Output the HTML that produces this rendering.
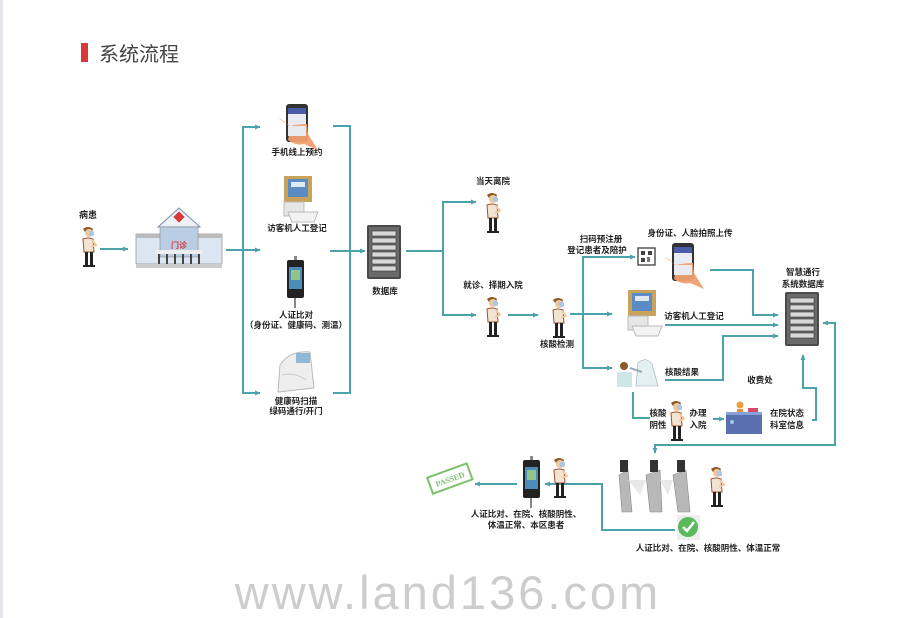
<!DOCTYPE html>
<html><head><meta charset="utf-8"><style>
html,body{margin:0;padding:0;background:#fff;}
svg{display:block;}
text{font-family:"Liberation Sans","Noto Sans CJK SC",sans-serif;font-weight:bold;}
.t{fill:#222;}
</style></head><body>
<svg width="900" height="618" viewBox="0 0 900 618" xmlns="http://www.w3.org/2000/svg">
<defs>
<marker id="a" markerWidth="6" markerHeight="6" refX="5" refY="3" orient="auto" markerUnits="userSpaceOnUse"><path d="M0,0.5 L5.5,3 L0,5.5z" fill="#4aa3a8"/></marker>
<g id="p">
<path d="M3,3 Q8,-1 13,3 L12,6 L5,6z" fill="#8a5a2b"/>
<circle cx="9" cy="7" r="4" fill="#f0c8a0"/>
<rect x="9" y="5" width="5" height="5" rx="1.5" fill="#a8c8e8"/>
<path d="M3,13 Q8,11 13,13 L14,26 L4,26z" fill="#f3e3d3" stroke="#a0522d" stroke-width="1"/>
<path d="M12,14 L16,19 L11,21" fill="none" stroke="#f0c8a0" stroke-width="2"/>
<rect x="5" y="26" width="3" height="14" fill="#222"/><rect x="10" y="26" width="3" height="14" fill="#222"/>
<rect x="3" y="39" width="6" height="2" fill="#222"/><rect x="9" y="39" width="6" height="2" fill="#222"/>
</g>
<g id="srv">
<rect x="0" y="0" width="34" height="54" rx="2" fill="#4a4a4a"/>
<rect x="2" y="2" width="30" height="50" fill="#6a6a6a"/>
<g fill="#d8d8d8" stroke="#333" stroke-width="0.6">
<rect x="5" y="6" width="24" height="5"/><rect x="5" y="13" width="24" height="5"/><rect x="5" y="20" width="24" height="5"/><rect x="5" y="27" width="24" height="5"/><rect x="5" y="34" width="24" height="5"/><rect x="5" y="41" width="24" height="5"/></g>
</g>
<g id="kiosk">
<rect x="6" y="0" width="28" height="26" fill="#c9a25c"/>
<rect x="10" y="3" width="20" height="18" fill="#5b8bc5"/>
<rect x="13" y="6" width="14" height="5" fill="#dfe9f4"/>
<rect x="6" y="26" width="20" height="14" fill="#e6e6e6" stroke="#bbb"/>
<path d="M10,36 L40,36 L36,46 L14,46z" fill="#f2f2f2" stroke="#bbb"/>
</g>
<g id="term">
<rect x="0" y="0" width="17" height="38" rx="2" fill="#222"/>
<rect x="2" y="7" width="13" height="22" fill="#4c8cb8"/>
<rect x="4" y="10" width="9" height="10" fill="#8fc48a"/>
<rect x="7" y="38" width="2" height="10" fill="#888"/>
<rect x="7" y="-4" width="3" height="4" fill="#888"/>
</g>
<g id="phone">
<rect x="8" y="0" width="22" height="38" rx="3" fill="#333"/>
<rect x="10" y="4" width="18" height="28" fill="#e8ecf2"/>
<rect x="10" y="4" width="18" height="6" fill="#4a5ca8"/>
<path d="M0,14 Q10,18 12,26 L10,36 Q18,42 26,40 L40,46 L30,30 L29,20 Q20,20 12,22z" fill="#f0a070" opacity="0.95"/>
<rect x="10" y="22" width="18" height="10" fill="#e8ecf2"/>
</g>
</defs>

<rect x="0" y="0" width="3" height="618" fill="#e4e6ea"/>
<!-- title -->
<rect x="81" y="43" width="7" height="19" fill="#d83a3a"/>
<text x="99" y="61" font-size="20" style="font-weight:normal;fill:#444">系统流程</text>

<g stroke="#4aa3a8" stroke-width="2" fill="none">
<line x1="100" y1="249" x2="128" y2="249" marker-end="url(#a)"/>
<line x1="226" y1="250" x2="260" y2="250" marker-end="url(#a)"/>
<path d="M260,127 L243,127 L243,393 L260,393" />
<line x1="254" y1="127" x2="260" y2="127" marker-end="url(#a)"/>
<line x1="254" y1="393" x2="260" y2="393" marker-end="url(#a)"/>
<path d="M333,126 L350,126 L350,393 L333,393"/>
<line x1="330" y1="251" x2="365" y2="251" marker-end="url(#a)"/>
<line x1="406" y1="251" x2="443" y2="251"/>
<path d="M476,202 L443,202 L443,315 L476,315"/>
<line x1="470" y1="202" x2="476" y2="202" marker-end="url(#a)"/>
<line x1="470" y1="315" x2="476" y2="315" marker-end="url(#a)"/>
<line x1="508" y1="315" x2="538" y2="315" marker-end="url(#a)"/>
<line x1="570" y1="314" x2="583" y2="314"/>
<path d="M635,257 L583,257 L583,368 L612,368"/>
<line x1="628" y1="257" x2="635" y2="257" marker-end="url(#a)"/>
<line x1="583" y1="314" x2="612" y2="314" marker-end="url(#a)"/>
<line x1="605" y1="368" x2="612" y2="368" marker-end="url(#a)"/>
<path d="M710,270 L753,270 L753,315 L778,315" marker-end="url(#a)"/>
<line x1="665" y1="325" x2="778" y2="325" marker-end="url(#a)"/>
<path d="M665,380 L723,380 L723,336 L778,336" marker-end="url(#a)"/>
<path d="M633,392 L633,418 L650,418"/>
<line x1="713" y1="419" x2="724" y2="419" marker-end="url(#a)"/>
<path d="M812,420 L816,420 L816,388 L803,388 L803,355" marker-end="url(#a)"/>
<path d="M655,453 L655,445 L835,445 L835,323 L823,323" marker-end="url(#a)"/>
<line x1="655" y1="447" x2="655" y2="453" marker-end="url(#a)"/>
<path d="M675,530 L602,530 L602,484 L545,484" marker-end="url(#a)"/>
<line x1="517" y1="484" x2="475" y2="484" marker-end="url(#a)"/>
</g>

<g class="t">
<text x="88" y="218" font-size="9" text-anchor="middle">病患</text>
<text x="297" y="155" font-size="8.5" text-anchor="middle">手机线上预约</text>
<text x="297" y="231" font-size="8.5" text-anchor="middle">访客机人工登记</text>
<text x="296" y="318" font-size="8.5" text-anchor="middle">人证比对</text>
<text x="296" y="328" font-size="8.5" text-anchor="middle">（身份证、健康码、测温）</text>
<text x="296" y="404" font-size="8.5" text-anchor="middle">健康码扫描</text>
<text x="296" y="414" font-size="8.5" text-anchor="middle">绿码通行/开门</text>
<text x="385" y="294" font-size="8.5" text-anchor="middle">数据库</text>
<text x="493" y="184" font-size="8.5" text-anchor="middle">当天离院</text>
<text x="493" y="288" font-size="8.5" text-anchor="middle">就诊、择期入院</text>
<text x="557" y="347" font-size="8.5" text-anchor="middle">核酸检测</text>
<text x="601" y="242" font-size="8.5" text-anchor="middle">扫码预注册</text>
<text x="597" y="253" font-size="8.5" text-anchor="middle">登记患者及陪护</text>
<text x="690" y="236" font-size="8.5" text-anchor="middle">身份证、人脸拍照上传</text>
<text x="803" y="275" font-size="8.5" text-anchor="middle">智慧通行</text>
<text x="803" y="287" font-size="8.5" text-anchor="middle">系统数据库</text>
<text x="694" y="319" font-size="8.5" text-anchor="middle">访客机人工登记</text>
<text x="682" y="375" font-size="8.5" text-anchor="middle">核酸结果</text>
<text x="760" y="383" font-size="8.5" text-anchor="middle">收费处</text>
<text x="658" y="416" font-size="8.5" text-anchor="middle">核酸</text>
<text x="658" y="428" font-size="8.5" text-anchor="middle">阴性</text>
<text x="698" y="416" font-size="8.5" text-anchor="middle">办理</text>
<text x="698" y="428" font-size="8.5" text-anchor="middle">入院</text>
<text x="787" y="416" font-size="8.5" text-anchor="middle">在院状态</text>
<text x="787" y="428" font-size="8.5" text-anchor="middle">科室信息</text>
<text x="708" y="551" font-size="8.5" text-anchor="middle">人证比对、在院、核酸阴性、体温正常</text>
<text x="526" y="517" font-size="8.5" text-anchor="middle">人证比对、在院、核酸阴性、</text>
<text x="526" y="528" font-size="8.5" text-anchor="middle">体温正常、本区患者</text>
</g>

<use href="#p" x="80" y="226"/>
<!-- hospital -->
<g>
<rect x="136" y="234" width="86" height="30" fill="#dbe6f2" stroke="#999" stroke-width="0.8"/>
<rect x="136" y="234" width="86" height="4" fill="#bbb"/>
<path d="M158,227 L179,208 L200,227z" fill="#eef2f8" stroke="#7a8aa8"/>
<rect x="175" y="213" width="8" height="8" fill="#d83a3a" transform="rotate(45 179 217)"/>
<rect x="160" y="227" width="38" height="30" fill="#b9cde4" stroke="#888" stroke-width="0.6"/>
<text x="179" y="248" font-size="8" text-anchor="middle" style="fill:#d83a3a">门诊</text>
<rect x="155" y="250" width="48" height="4" fill="#eee"/>
<g fill="#444"><rect x="158" y="254" width="2" height="10"/><rect x="166" y="254" width="2" height="10"/><rect x="174" y="254" width="2" height="10"/><rect x="182" y="254" width="2" height="10"/><rect x="190" y="254" width="2" height="10"/><rect x="198" y="254" width="2" height="10"/></g>
<rect x="136" y="264" width="86" height="4" fill="#ccc"/>
</g>

<use href="#phone" x="278" y="104"/>
<use href="#kiosk" x="278" y="176"/>
<use href="#term" x="287" y="260"/>
<g>
<path d="M280,365 Q290,350 310,352 L314,388 L278,392z" fill="#eee" stroke="#bbb"/>
<rect x="296" y="353" width="14" height="10" fill="#8fb8d8"/>
<path d="M282,375 Q295,372 306,380" fill="none" stroke="#ccc"/>
</g>

<use href="#srv" x="367" y="225"/>
<use href="#p" x="484" y="192"/>
<use href="#p" x="484" y="296"/>
<use href="#p" x="550" y="297"/>
<g>
<rect x="638" y="248" width="17" height="17" fill="#fff" stroke="#555" stroke-width="1.5"/>
<rect x="641" y="251" width="4" height="4" fill="#444"/><rect x="648" y="251" width="4" height="4" fill="#444"/><rect x="641" y="258" width="4" height="4" fill="#444"/><rect x="647" y="257" width="3" height="5" fill="#777"/>
</g>
<use href="#phone" x="664" y="243"/>
<use href="#srv" x="785" y="292"/>
<use href="#kiosk" x="622" y="290"/>
<g>
<circle cx="624" cy="366" r="4" fill="#8a5a2b"/>
<path d="M617,372 L632,372 L632,387 L617,387z" fill="#cfe6e6"/>
<path d="M638,363 Q646,356 652,364 L658,386 L636,386z" fill="#e4f0f2" stroke="#9ab" stroke-width="0.6"/>
<line x1="630" y1="368" x2="642" y2="372" stroke="#9ab" stroke-width="2"/>
</g>
<use href="#p" x="668" y="400"/>
<g>
<circle cx="740" cy="405" r="3.5" fill="#e8a040"/>
<rect x="737" y="409" width="6" height="5" fill="#e89040"/>
<rect x="726" y="412" width="36" height="22" fill="#5a6fb0"/>
<rect x="726" y="412" width="36" height="3" fill="#8aa0d8"/>
<circle cx="732" cy="422" r="2" fill="#9ec8e8"/>
<rect x="748" y="408" width="10" height="4" fill="#d84a6a"/>
</g>

<!-- bottom -->
<g>
<g fill="#b8b8b8" stroke="#888" stroke-width="0.6">
<path d="M619,475 L628,470 L632,512 L622,512z"/>
<path d="M646,475 L660,470 L662,512 L650,512z"/>
<path d="M673,475 L686,470 L690,512 L678,512z"/>
</g>
<g fill="#333"><rect x="620" y="460" width="8" height="12"/><rect x="650" y="460" width="8" height="12"/><rect x="677" y="460" width="8" height="12"/></g>
<g fill="#e4e4e4" opacity="0.8"><path d="M628,480 L646,480 L640,495z"/><path d="M660,480 L673,480 L668,495z"/></g>
</g>
<use href="#p" x="708" y="466"/>
<rect x="677" y="515" width="23" height="25" fill="#eee"/>
<circle cx="688" cy="527" r="10" fill="#5cb85c"/>
<path d="M683,527 L687,531 L694,522" fill="none" stroke="#fff" stroke-width="2.5"/>
<use href="#term" x="523" y="460"/>
<use href="#p" x="551" y="457"/>
<g transform="rotate(-20 450 479)">
<rect x="429" y="470" width="42" height="17" fill="#fff" stroke="#7cc06c" stroke-width="2"/>
<text x="450" y="482" font-size="8" text-anchor="middle" style="fill:#7cc06c;font-family:'Liberation Serif',serif">PASSED</text>
</g>

<text x="448" y="609" font-size="47" text-anchor="middle" style="font-weight:normal;fill:#cdcdcd;letter-spacing:3px">www.land136.com</text>
</svg>
</body></html>
